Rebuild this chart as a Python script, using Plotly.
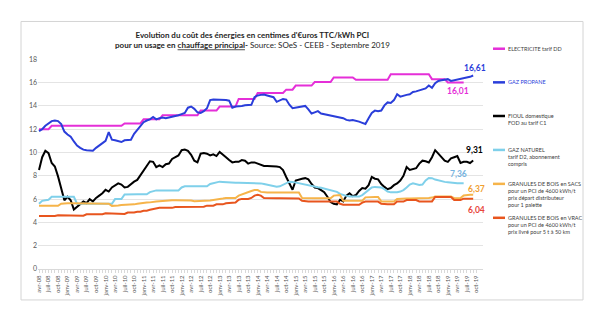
import plotly.graph_objects as go

# ---------------- categories ----------------
MOIS = ["janv", "févr", "mars", "avr", "mai", "juin", "juil", "août", "sept", "oct", "nov", "déc"]
months = []
for yr in range(2008, 2020):
    for m in range(12):
        if (yr == 2008 and m < 3) or (yr == 2019 and m > 9):
            continue
        months.append(f"{MOIS[m]}-{str(yr)[2:]}")
tick_labels = [lab if k % 3 == 0 else "" for k, lab in enumerate(months)]

# ---------------- series (c€ TTC / kWh PCI) ----------------
electricite = [
    12.0, 12.0, 12.0, 12.0,
    12.3, 12.3, 12.3, 12.3, 12.3, 12.3, 12.3, 12.3, 12.3, 12.3, 12.3, 12.3,
    12.3, 12.3, 12.3, 12.3, 12.3, 12.3, 12.3, 12.3, 12.3, 12.3, 12.3,
    12.5, 12.5, 12.5, 12.5, 12.5, 12.5,
    12.85, 12.85, 12.85, 12.85, 12.85, 12.85,
    13.2, 13.2, 13.2, 13.2, 13.2, 13.2, 13.2, 13.2, 13.2, 13.2, 13.2, 13.2,
    13.6, 13.6, 13.6, 13.6, 13.6, 13.6,
    13.95, 13.95, 13.95, 13.95, 13.95, 13.95,
    14.6, 14.6, 14.6, 14.6, 14.6, 14.6,
    15.12, 15.12, 15.12, 15.12, 15.12, 15.12, 15.12, 15.12, 15.12,
    15.4, 15.4, 15.4,
    15.75, 15.75, 15.75, 15.75, 15.75, 15.75,
    16.05, 16.05, 16.05, 16.05, 16.05, 16.05,
    16.45, 16.45, 16.45, 16.45, 16.45, 16.45, 16.45,
    16.25, 16.25, 16.25, 16.25, 16.25, 16.25, 16.25, 16.25, 16.25, 16.25, 16.25,
    16.72, 16.72, 16.72, 16.72, 16.72, 16.72, 16.72, 16.72, 16.72, 16.72, 16.72, 16.72, 16.72,
    16.3, 16.3, 16.3, 16.3, 16.3,
    16.01, 16.01, 16.01, 16.01, 16.01, 16.01,
]

gaz_propane = [
    11.83, 12.0, 12.3, 12.5, 12.7, 12.75, 12.7, 12.45, 11.8, 11.55,
    11.35, 10.95, 10.6, 10.4, 10.25, 10.2, 10.2, 10.15, 10.4, 10.6,
    10.8, 11.0, 11.75, 11.1, 11.05, 10.95, 10.9, 11.05, 11.05, 11.1,
    11.6, 11.95, 12.35, 12.6, 12.75, 12.85, 13.05, 12.85, 12.95, 13.0,
    12.95, 13.0, 13.05, 13.15, 13.2, 13.3, 13.4, 13.85, 13.95, 13.75,
    13.45, 13.4, 13.55, 13.8, 14.5, 14.55, 14.55, 14.55, 14.55, 14.5,
    14.45, 13.85, 13.95, 13.95, 14.0, 14.05, 14.05, 14.1, 14.75, 14.9,
    14.95, 14.98, 14.9, 14.85, 14.75, 14.35, 14.5, 14.6, 14.55, 14.1,
    13.8, 13.85, 13.9, 13.9, 14.0, 13.7, 13.35, 13.45, 13.55, 13.35,
    13.3, 13.2, 13.2, 13.1, 13.05, 13.0, 12.95, 12.8, 12.75, 12.8,
    12.75, 12.65, 12.55, 12.45, 12.95, 13.4, 13.6, 13.55, 13.6, 14.05,
    14.3, 14.25, 14.5, 15.0, 14.8, 14.9, 14.95, 15.0, 15.2, 15.25,
    15.35, 15.4, 15.5, 15.75, 15.55, 15.95, 16.15, 16.2, 16.25, 16.3,
    16.15, 16.2, 16.28, 16.3, 16.38, 16.42, 16.5, 16.61,
]

fioul = [
    8.5, 9.6, 10.15, 9.95, 9.1, 8.8, 7.95, 6.95, 5.9, 6.2,
    5.9, 5.1, 5.35, 5.6, 5.8, 5.65, 6.0, 5.8, 6.1, 6.3,
    6.5, 6.8, 6.65, 7.0, 7.2, 7.35, 7.25, 7.0, 7.05, 7.3,
    7.5, 7.65, 8.05, 8.5, 8.8, 9.25, 9.2, 8.75, 8.9, 8.75,
    9.0, 9.05, 9.45, 9.6, 9.75, 10.2, 10.25, 10.15, 9.8, 9.3,
    9.15, 9.9, 9.95, 9.9, 9.75, 9.85, 9.7, 10.05, 9.85, 9.6,
    9.35, 9.15, 9.2, 9.2, 9.35, 9.3, 9.05, 9.15, 9.15, 9.05,
    8.95, 8.85, 8.85, 8.85, 8.83, 8.8, 8.75, 8.5, 7.9, 7.4,
    6.8, 7.6, 7.7, 7.75, 7.8, 7.7, 7.3, 7.0, 6.95, 6.8,
    6.6, 6.2, 5.75, 5.6, 5.55, 5.95, 5.8, 6.3, 6.5, 6.25,
    6.35, 6.7, 6.95, 6.9, 7.2, 7.9, 7.75, 7.7, 7.3, 7.05,
    6.85, 6.95, 7.2, 7.35, 7.6, 8.0, 8.75, 8.5, 8.55, 8.65,
    9.05, 9.3, 9.25, 9.15, 9.6, 10.2, 9.9, 9.6, 9.3, 9.2,
    9.5, 9.6, 9.7, 9.1, 9.2, 9.2, 9.1, 9.31,
]

gaz_naturel = [
    5.6, 5.85, 5.9, 5.95, 6.2, 6.2, 6.2, 6.2, 6.2, 6.2,
    6.2, 6.2, 5.6, 5.6, 5.6, 5.6, 5.6, 5.6, 5.6, 5.6,
    5.6, 5.6, 5.6, 5.6, 6.0, 6.0, 6.0, 6.4, 6.42, 6.42,
    6.42, 6.42, 6.42, 6.42, 6.42, 6.6, 6.7, 6.75, 6.75, 6.75,
    6.75, 6.75, 6.75, 6.75, 6.75, 7.0, 7.1, 7.1, 7.1, 7.1,
    7.1, 7.1, 7.1, 7.1, 7.3, 7.38, 7.45, 7.5, 7.48, 7.45,
    7.42, 7.42, 7.4, 7.4, 7.4, 7.4, 7.4, 7.4, 7.4, 7.38,
    7.35, 7.3, 7.25, 7.2, 7.12, 7.07, 7.1, 7.25, 7.4, 7.5,
    7.48, 7.42, 7.35, 7.28, 7.22, 7.15, 7.1, 7.07, 7.02, 6.98,
    6.92, 6.85, 6.78, 6.7, 6.62, 6.45, 6.35, 6.28, 6.22, 6.21,
    6.21, 6.22, 6.35, 6.55, 6.8, 7.0, 7.05, 7.05, 7.0, 6.85,
    6.65, 6.58, 6.58, 6.6, 6.65, 6.78, 7.0, 7.25, 7.35, 7.3,
    7.22, 7.25, 7.6, 7.82, 7.8, 7.68, 7.6, 7.55, 7.48, 7.45,
    7.4, 7.38, 7.36, 7.36, 7.36,
]

granules_sacs = [
    5.42, 5.42, 5.42, 5.42, 5.42, 5.42, 5.42, 5.6, 5.65, 5.65,
    5.65, 5.65, 5.65, 5.65, 5.65, 5.65, 5.65, 5.65, 5.65, 5.65,
    5.65, 5.65, 5.6, 5.42, 5.42, 5.45, 5.5, 5.5, 5.5, 5.5,
    5.55, 5.6, 5.65, 5.68, 5.7, 5.72, 5.78, 5.8, 5.82, 5.85,
    5.88, 5.9, 5.9, 5.9, 5.9, 5.88, 5.88, 5.88, 5.88, 5.82,
    5.82, 5.82, 5.82, 5.82, 5.88, 5.93, 5.95, 6.0, 6.05, 6.1,
    6.1, 6.1, 6.1, 6.3, 6.4, 6.55, 6.62, 6.7, 6.78, 6.78,
    6.62, 6.56, 6.56, 6.56, 6.56, 6.56, 6.56, 6.56, 6.56, 6.56,
    6.56, 6.56, 6.56, 6.1, 6.08, 6.08, 6.08, 6.08, 6.08, 6.08,
    6.08, 6.08, 6.08, 6.3, 6.35, 6.35, 5.85, 5.87, 5.87, 5.87,
    5.87, 5.87, 5.87, 6.15, 6.18, 6.18, 6.18, 6.18, 5.8, 5.79,
    5.79, 5.79, 5.79, 6.02, 6.05, 6.05, 6.05, 6.05, 6.05, 6.1,
    6.1, 6.1, 6.1, 6.1, 6.13, 6.22, 6.22, 6.22, 6.22, 6.22,
    6.22, 6.08, 6.08, 6.1, 6.32, 6.36, 6.38, 6.37,
]

granules_vrac = [
    4.55, 4.55, 4.55, 4.55, 4.55, 4.55, 4.62, 4.62, 4.62, 4.62,
    4.62, 4.62, 4.58, 4.58, 4.58, 4.7, 4.7, 4.7, 4.7, 4.7,
    4.7, 4.78, 4.78, 4.78, 4.78, 4.78, 4.72, 4.72, 4.85, 4.85,
    4.85, 4.92, 4.92, 5.0, 5.0, 5.08, 5.15, 5.2, 5.25, 5.25,
    5.25, 5.25, 5.25, 5.32, 5.32, 5.32, 5.32, 5.32, 5.32, 5.32,
    5.35, 5.35, 5.35, 5.44, 5.44, 5.44, 5.55, 5.55, 5.55, 5.64,
    5.64, 5.64, 5.7, 5.95, 6.02, 6.02, 6.02, 6.1, 6.3, 6.37,
    6.3, 6.1, 6.08, 6.08, 6.08, 6.08, 6.08, 6.08, 6.08, 6.08,
    6.08, 6.08, 6.05, 5.85, 5.79, 5.79, 5.79, 5.79, 5.79, 5.79,
    5.79, 5.79, 5.79, 5.79, 5.79, 5.6, 5.52, 5.52, 5.52, 5.52,
    5.52, 5.52, 5.7, 5.79, 5.79, 5.79, 5.79, 5.79, 5.6, 5.56,
    5.56, 5.56, 5.56, 5.79, 5.79, 5.79, 5.92, 5.92, 5.92, 5.92,
    5.8, 5.8, 5.8, 5.8, 5.8, 6.18, 6.18, 6.18, 6.18, 6.18,
    6.18, 5.93, 5.93, 5.93, 6.04, 6.04, 6.04, 6.04,
]

series_names = [
    "ELECTRICITE tarif DD",
    "GAZ PROPANE",
    "FIOUL domestique<br>FOD au tarif C1",
    "GAZ NATUREL<br>tarif D2, abonnement<br>compris",
    "GRANULES DE BOIS en SACS<br>pour un PCI de 4600 kWh/t<br>prix départ distributeur<br>pour 1 palette",
    "GRANULES DE BOIS en VRAC<br>pour un PCI de 4600 kWh/t<br>prix livré pour 5 t à 50 km",
]
series_values = [electricite, gaz_propane, fioul, gaz_naturel, granules_sacs, granules_vrac]
end_labels = ["16,01", "16,61", "9,31", "7,36", "6,37", "6,04"]

# ---------------- styles ----------------
line_colors = ["#E52FD8", "#2A3EDA", "#000000", "#7FD0EA", "#F6B44A", "#E8551E"]
label_colors = ["#E52FD8", "#2A3EDA", "#000000", "#78B4E0", "#F0A030", "#E8453A"]
legend_text_colors = ["#404040", "#2A3EDA", "#404040", "#404040", "#404040", "#404040"]
# end-label placement (category index offset, value)
label_pos = [(132.3, 15.26), (137.7, 17.23), (137.5, 10.21), (132.3, 8.16), (138.0, 6.87), (138.0, 5.08)]
legend_line_y = [48.3, 82.0, 115.7, 149.7, 183.7, 217.7]

FONT = "Lato, Open Sans, Arial, sans-serif"
L, R, T, B = 38, 117, 58.6, 57
W, H = 600, 326
PW, PH = W - L - R, H - T - B
YMAX = 18.03


def px(xpix):
    return (xpix - L) / PW


def py(ypix):
    return (H - B - ypix) / PH


fig = go.Figure()
for name, vals, col in zip(series_names, series_values, line_colors):
    fig.add_trace(go.Scatter(
        x=months[:len(vals)], y=vals, mode="lines", name=name.split("<br>")[0],
        line=dict(color=col, width=2), showlegend=False, hoverinfo="skip",
    ))

annotations = []
shapes = []
# title
annotations.append(dict(
    xref="paper", yref="paper", x=px(252), y=py(40), xanchor="center", yanchor="middle",
    showarrow=False, align="center",
    text="<b>Evolution du coût des énergies en centimes d'€uros TTC/kWh PCI</b><br>"
         "<b>pour un usage en <u>chauffage principal</u>-</b> Source: SOeS - CEEB - Septembre 2019",
    font=dict(family=FONT, size=8, color="#262626"),
))
# end-of-line value labels
for txt, (xi, yv), col in zip(end_labels, label_pos, label_colors):
    annotations.append(dict(
        xref="x", yref="y", x=xi, y=yv, text=f"<b>{txt}</b>", showarrow=False,
        xanchor="center", yanchor="middle", font=dict(family=FONT, size=8.5, color=col),
    ))
# legend (custom, right side)
for name, col, tcol, ly in zip(series_names, line_colors, legend_text_colors, legend_line_y):
    shapes.append(dict(type="line", xref="paper", yref="paper",
                       x0=px(493), x1=px(505), y0=py(ly), y1=py(ly),
                       line=dict(color=col, width=2.5)))
    annotations.append(dict(
        xref="paper", yref="paper", x=px(506), y=py(ly - 4.9), xanchor="left", yanchor="top",
        showarrow=False, align="left", text=name,
        font=dict(family=FONT, size=5.5, color=tcol),
    ))
# outer frame
shapes.append(dict(type="rect", xref="paper", yref="paper", layer="below",
                   x0=px(21), x1=px(583), y0=py(300), y1=py(21),
                   line=dict(color="#d4d4d4", width=1), fillcolor="rgba(0,0,0,0)"))

fig.update_layout(
    width=W, height=H, margin=dict(l=L, r=R, t=T, b=B),
    paper_bgcolor="white", plot_bgcolor="white", showlegend=False,
    font=dict(family=FONT), annotations=annotations, shapes=shapes,
)
fig.update_xaxes(
    type="category", categoryorder="array", categoryarray=months,
    range=[-0.32, 140.1], tickmode="array", tickvals=months, ticktext=tick_labels,
    tickangle=-90, tickfont=dict(family=FONT, size=6, color="#595959"),
    showgrid=False, showline=True, linecolor="#d9d9d9", linewidth=1,
    ticks="outside", ticklen=3, tickcolor="#d9d9d9", zeroline=False,
)
fig.update_yaxes(
    range=[0, YMAX], tick0=0, dtick=2, showgrid=True, gridcolor="#e4e4e4", gridwidth=1,
    zeroline=False, showline=False, ticks="", tickfont=dict(family=FONT, size=7, color="#595959"),
)

fig.write_html("out.html")
